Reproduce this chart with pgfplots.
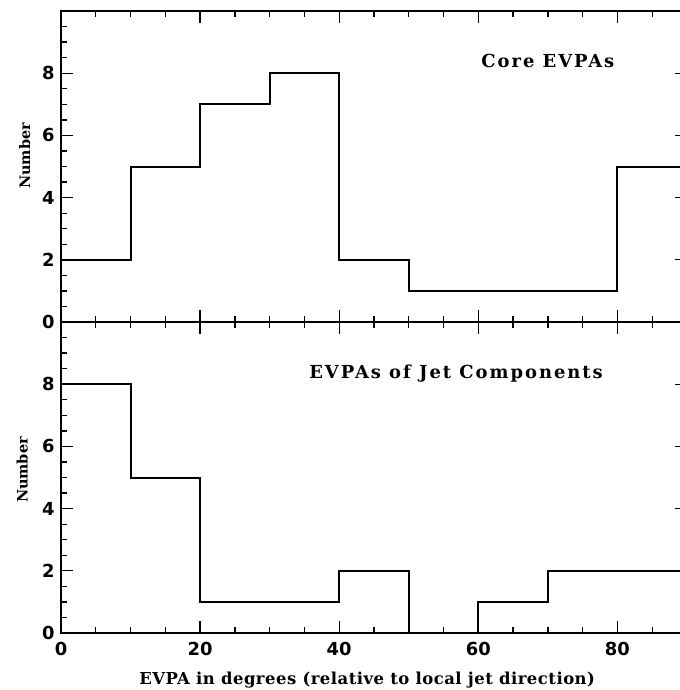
\documentclass[border=0pt]{standalone}
\usepackage{fontspec}
\setmainfont{DejaVu Serif}
\newfontfamily\tickfont{DejaVu Sans}
\usepackage{pgfplots}
\pgfplotsset{compat=1.18}

\newcommand\labfont{\fontsize{16.5}{16.5}\selectfont\bfseries\addfontfeature{LetterSpace=3}}
\newcommand\ylabfont{\fontsize{14.5}{14.5}\selectfont\bfseries}
\newcommand\titfont{\fontsize{18}{18}\selectfont\bfseries\addfontfeature{LetterSpace=11}}

\pgfplotsset{
  panel/.style={
    scale only axis, width=626bp, height=311bp,
    xmin=0, xmax=90, ymin=0, ymax=10,
    xtick={0,20,40,60,80}, minor xtick={0,5,...,90},
    ytick={0,2,4,6,8}, minor ytick={0,0.5,...,10},
    tick align=inside, major tick length=12bp, minor tick length=6bp,
    tick pos=both, xticklabel pos=lower, yticklabel pos=left,
    axis line style={line width=1.6bp},
    every tick/.style={line width=1.3bp, black},
    /pgf/number format/assume math mode=true,
    ticklabel style={font=\fontsize{18}{18}\selectfont\tickfont\bfseries},
    xticklabel style={yshift=-6bp},
    yticklabel style={xshift=-3bp},
    clip=false,
  },
}

\begin{document}
\begin{tikzpicture}[x=1bp,y=1bp]
\begin{axis}[panel, at={(61bp,-11bp)}, anchor=north west,
  xticklabels={},
  ylabel={Number},
  every axis y label/.style={at={(axis description cs:-0.058,0.534)}, rotate=90, anchor=center, font=\ylabfont},
]
\addplot[const plot, line width=2bp, black] coordinates {
  (0,2) (10,5) (20,7) (30,8) (40,2) (50,1) (60,1) (70,1) (80,5) (90,5)};
\node[font=\titfont] at (axis cs:70,8.4) {Core EVPAs};
\end{axis}
\begin{axis}[panel, at={(61bp,-322bp)}, anchor=north west,
  ylabel={Number},
  every axis y label/.style={at={(axis description cs:-0.062,0.524)}, rotate=90, anchor=center, font=\ylabfont},
  xlabel={EVPA in degrees (relative to local jet direction)},
  every axis x label/.style={at={(axis description cs:0.489,-0.167)}, anchor=base, font=\labfont},
]
\addplot[const plot, line width=2bp, black] coordinates {
  (0,8) (10,5) (20,1) (30,1) (40,2) (50,0) (60,1) (70,2) (80,2) (90,2)};
\node[font=\titfont] at (axis cs:56.8,8.35) {EVPAs of Jet Components};
\end{axis}
\pgfresetboundingbox
\useasboundingbox (0,0) rectangle (680,-690);
\end{tikzpicture}
\end{document}
